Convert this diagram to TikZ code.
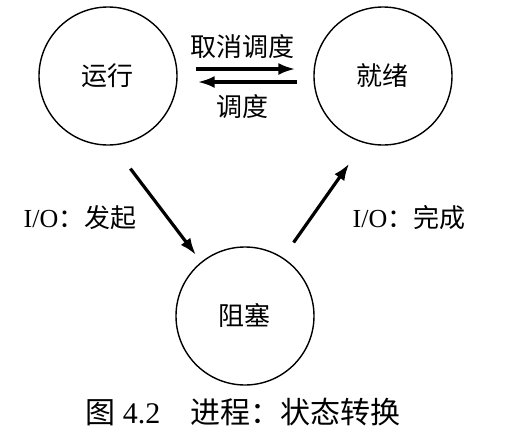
\documentclass[tikz,border=0pt]{standalone}
\usepackage{fontspec}
\setmainfont{Liberation Serif}
\newfontfamily\cjk{Noto Sans CJK SC}
\usetikzlibrary{arrows.meta}

\tikzset{
  state/.style={circle,draw,line width=0.7pt,minimum size=69pt,inner sep=0pt,
    font=\cjk\fontsize{13}{15}\selectfont},
  arr/.style={line width=1.6pt,-{Latex[length=8.5pt,width=6pt]}},
  lbl/.style={font=\fontsize{13}{15}\selectfont},
}

\begin{document}
\begin{tikzpicture}[x=0.5pt,y=0.5pt]

  \useasboundingbox (0,0) rectangle (516,436);

  % the three states
  \node[state] (run)   at (108,360) {运行};
  \node[state] (ready) at (383,360) {就绪};
  \node[state] (block) at (245,120) {阻塞};

  % run <-> ready
  \draw[arr,shorten <=9pt,shorten >=9pt]
    ([yshift=3.5pt]run.east) -- ([yshift=3.5pt]ready.west);
  \draw[arr,shorten <=8pt,shorten >=10pt]
    ([yshift=-3pt]ready.west) -- ([yshift=-3pt]run.east);
  \node[lbl] (desched) at (243,389) {\cjk 取消调度};
  \node[lbl] (sched)   at (243,329) {\cjk 调度};

  % I/O
  \draw[arr,shorten <=14.5pt,shorten >=4.3pt] (run.-86) -- (block.129.5);
  \draw[arr,shorten <=9.2pt,shorten >=12.6pt] (block.57) -- (ready.254.5);
  \node[lbl] (ioissue) at (80,218)  {I/O{\cjk ：发起}};
  \node[lbl] (iodone)  at (409,218) {I/O{\cjk ：完成}};

  % caption
  \node[font=\fontsize{15}{18}\selectfont] (caption) at (243,24)
    {{\cjk 图} 4.2{\cjk 　进程：状态转换}};

\end{tikzpicture}
\end{document}
